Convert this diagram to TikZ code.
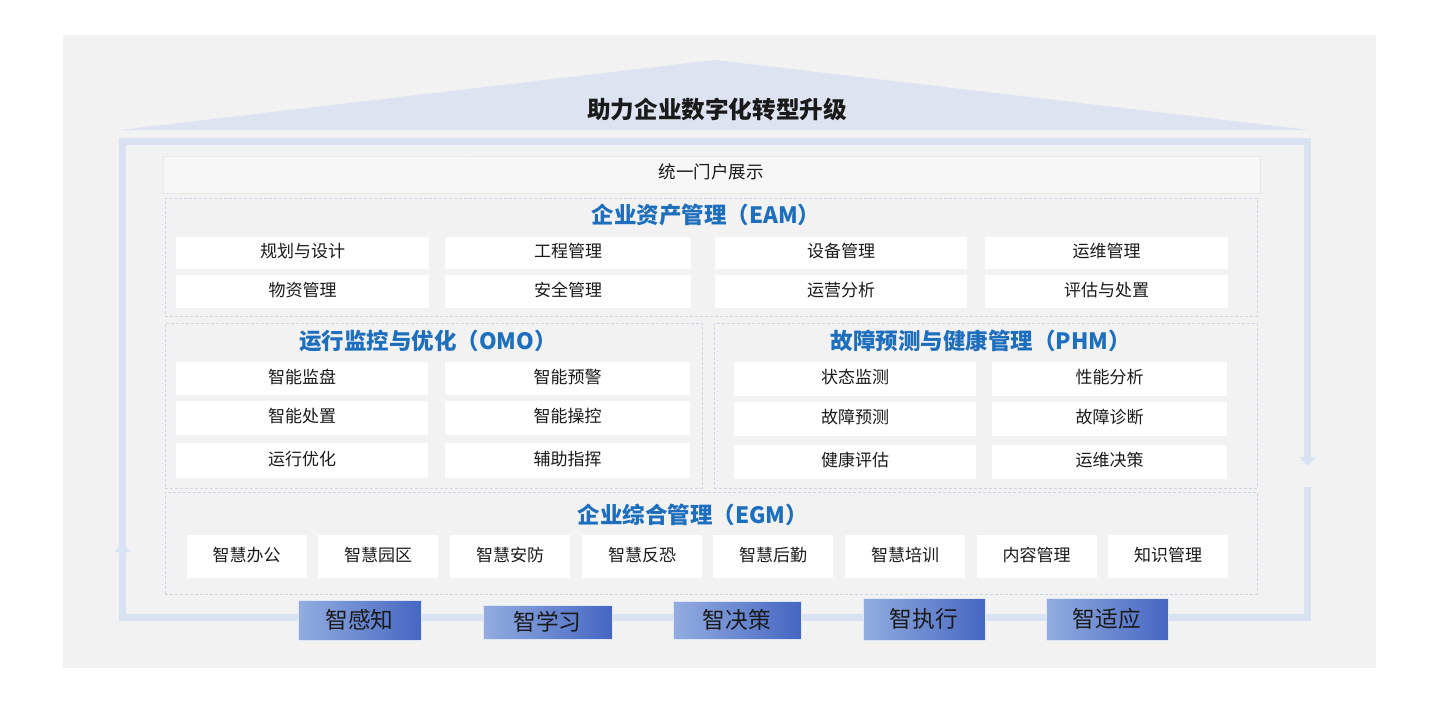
\documentclass[tikz,border=0pt]{standalone}
\usepackage{fontspec}
\setmainfont{Noto Sans CJK SC}
\usetikzlibrary{arrows.meta}
\definecolor{bg}{HTML}{F2F2F2}
\definecolor{roof}{HTML}{DEE3F1}
\definecolor{framec}{HTML}{D9E2F3}
\definecolor{dashc}{HTML}{CDD4E3}
\definecolor{portalc}{HTML}{DCDCDC}
\definecolor{tblue}{HTML}{1E6EBE}
\definecolor{txt}{HTML}{1A1A1A}
\definecolor{gl}{HTML}{93ADE0}
\definecolor{gr}{HTML}{4566C2}
\tikzset{
  item/.style={fill=white, inner sep=0pt, text=txt, text height=14pt, text depth=5pt, font=\fontsize{17}{17}\selectfont},
  grp/.style={draw=dashc, dash pattern=on 3pt off 2pt, line width=0.9pt, inner sep=0pt},
  ttl/.style={text=tblue, inner sep=0pt, font=\fontsize{22.5}{23}\selectfont\bfseries},
  smart/.style={left color=gl, right color=gr, draw=white!70!gl, line width=0.8pt, inner sep=0pt, text=txt, font=\fontsize{22.7}{23}\selectfont},
  flow/.style={line width=7pt, draw=framec, line join=miter, -{Triangle[width=16pt,length=9pt]}},
}
\begin{document}
\begin{tikzpicture}[x=1pt,y=-1pt]
\useasboundingbox (0,0) rectangle (1440,720);
\fill[white] (0,0) rectangle (1440,720);
\fill[bg] (63,35) rectangle (1376,668);
% roof
\fill[roof] (120,130) -- (715,60) -- (1310,130) -- cycle;
\node[inner sep=0pt, text=txt, font=\fontsize{23.6}{24}\selectfont\bfseries] (title) at (717,110) {助力企业数字化转型升级};
% frame loop
\coordinate (fa) at (122.5,547);
\coordinate (ftl) at (122.5,141.5);
\coordinate (ftr) at (1307.5,141.5);
\coordinate (fb) at (1307.5,466);
\coordinate (fc) at (1307.5,487);
\coordinate (fbr) at (1307.5,617);
\coordinate (fbl) at (122.5,617);
\coordinate (fd) at (122.5,543);
\draw[flow] (fa) -- (ftl) -- (ftr) -- (fb);
\draw[flow] (fc) -- (fbr) -- (fbl) -- (fd);
% portal
\node[fill=white!40!bg, draw=portalc, dash pattern=on 1pt off 1pt, line width=0.8pt, minimum width=1097pt, minimum height=37pt, inner sep=0pt] (portal) at (711.5,174.5) {};
\node[inner sep=0pt, text=txt, font=\fontsize{17.5}{18}\selectfont] (portalt) at (711,172) {统一门户展示};
% EAM
\node[grp, minimum width=1092pt, minimum height=118pt] (eam) at (711,257) {};
\node[ttl] (eamt) at (706,215) {企业资产管理（EAM）};
\node[item, minimum width=253pt, minimum height=32pt] (e1) at (302.5,253) {规划与设计};
\node[item, minimum width=246pt, minimum height=32pt] (e2) at (568,253) {工程管理};
\node[item, minimum width=252pt, minimum height=32pt] (e3) at (841,253) {设备管理};
\node[item, minimum width=243pt, minimum height=32pt] (e4) at (1106.5,253) {运维管理};
\node[item, minimum width=253pt, minimum height=33pt] (e5) at (302.5,291.5) {物资管理};
\node[item, minimum width=246pt, minimum height=33pt] (e6) at (568,291.5) {安全管理};
\node[item, minimum width=252pt, minimum height=33pt] (e7) at (841,291.5) {运营分析};
\node[item, minimum width=243pt, minimum height=33pt] (e8) at (1106.5,291.5) {评估与处置};
% OMO
\node[grp, minimum width=537pt, minimum height=165pt] (omo) at (433.5,405.5) {};
\node[ttl] (omot) at (428,341) {运行监控与优化（OMO）};
\node[item, minimum width=252pt, minimum height=33pt] (o1) at (302,378.5) {智能监盘};
\node[item, minimum width=245pt, minimum height=33pt] (o2) at (567.5,378.5) {智能预警};
\node[item, minimum width=252pt, minimum height=34pt] (o3) at (302,418) {智能处置};
\node[item, minimum width=245pt, minimum height=34pt] (o4) at (567.5,418) {智能操控};
\node[item, minimum width=252pt, minimum height=35pt] (o5) at (302,460.5) {运行优化};
\node[item, minimum width=245pt, minimum height=35pt] (o6) at (567.5,460.5) {辅助指挥};
% PHM
\node[grp, minimum width=543pt, minimum height=165pt] (phm) at (985.5,405.5) {};
\node[ttl] (phmt) at (981,341) {故障预测与健康管理（PHM）};
\node[item, minimum width=242pt, minimum height=34pt] (p1) at (855,379) {状态监测};
\node[item, minimum width=235pt, minimum height=34pt] (p2) at (1109.5,379) {性能分析};
\node[item, minimum width=242pt, minimum height=34pt] (p3) at (855,419) {故障预测};
\node[item, minimum width=235pt, minimum height=34pt] (p4) at (1109.5,419) {故障诊断};
\node[item, minimum width=242pt, minimum height=34pt] (p5) at (855,461.5) {健康评估};
\node[item, minimum width=235pt, minimum height=34pt] (p6) at (1109.5,461.5) {运维决策};
% EGM
\node[grp, minimum width=1092pt, minimum height=102pt] (egm) at (711,543) {};
\node[ttl] (egmt) at (693,515) {企业综合管理（EGM）};
\node[item, minimum width=120pt, minimum height=43pt] (g1) at (246.5,556.5) {智慧办公};
\node[item, minimum width=120pt, minimum height=43pt] (g2) at (378,556.5) {智慧园区};
\node[item, minimum width=120pt, minimum height=43pt] (g3) at (510,556.5) {智慧安防};
\node[item, minimum width=120pt, minimum height=43pt] (g4) at (642,556.5) {智慧反恐};
\node[item, minimum width=120pt, minimum height=43pt] (g5) at (773,556.5) {智慧后勤};
\node[item, minimum width=120pt, minimum height=43pt] (g6) at (905,556.5) {智慧培训};
\node[item, minimum width=120pt, minimum height=43pt] (g7) at (1036.5,556.5) {内容管理};
\node[item, minimum width=120pt, minimum height=43pt] (g8) at (1168,556.5) {知识管理};
% smart boxes
\node[smart, minimum width=123pt, minimum height=40pt] (s1) at (359.5,620) {智感知};
\node[smart, minimum width=129pt, minimum height=34pt] (s2) at (547.5,622) {智学习};
\node[smart, minimum width=128pt, minimum height=38pt] (s3) at (737,620) {智决策};
\node[smart, minimum width=122pt, minimum height=42pt] (s4) at (924,619) {智执行};
\node[smart, minimum width=122pt, minimum height=42pt] (s5) at (1107,619) {智适应};
\end{tikzpicture}
\end{document}
